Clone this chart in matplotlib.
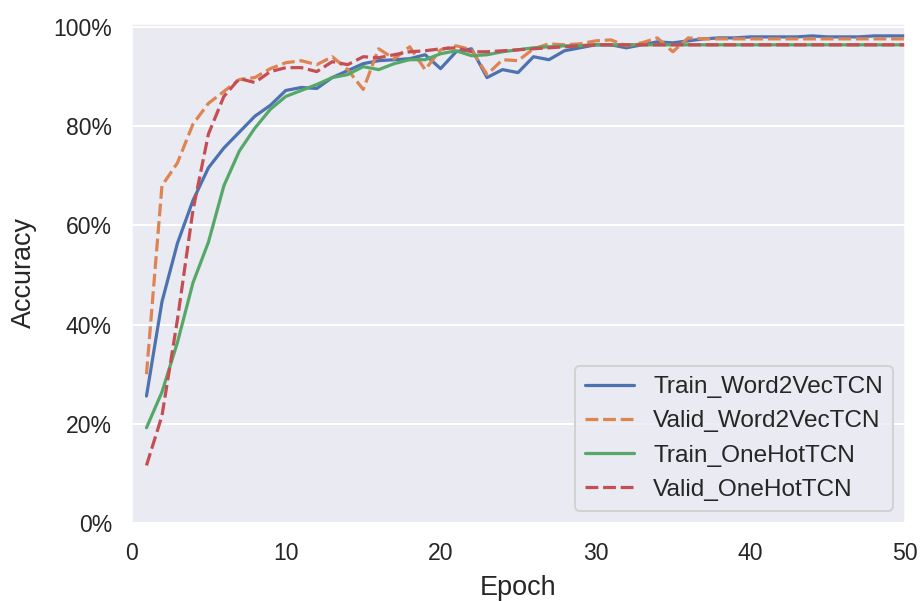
import matplotlib
matplotlib.use("Agg")
import matplotlib.pyplot as plt
import seaborn as sns
from matplotlib.ticker import PercentFormatter

sns.set_theme(style="darkgrid")
plt.rcParams['font.family'] = ['Liberation Sans', 'DejaVu Sans']

epochs = list(range(1, 51))

train_word2vec = [25.6, 44.6, 56.4, 65.0, 71.6, 75.6, 78.8, 82.0, 84.2, 87.2,
                  87.8, 87.6, 89.8, 91.2, 92.6, 93.2, 93.4, 93.6, 94.4, 91.6,
                  95.0, 95.6, 89.8, 91.4, 90.8, 94.0, 93.4, 95.2, 95.8, 96.4,
                  96.4, 95.8, 96.4, 97.0, 96.8, 97.2, 97.6, 97.8, 97.8, 98.0,
                  98.0, 98.0, 98.0, 98.2, 98.0, 98.0, 98.0, 98.2, 98.2, 98.2]
valid_word2vec = [30.0, 68.0, 72.6, 80.4, 84.6, 87.0, 89.4, 89.8, 91.6, 92.8,
                  93.2, 92.4, 94.0, 91.4, 87.4, 95.6, 93.6, 96.0, 91.4, 95.4,
                  96.2, 95.4, 90.4, 93.4, 93.2, 95.6, 96.6, 96.4, 96.6, 97.2,
                  97.4, 96.2, 96.8, 97.8, 95.0, 97.8, 97.6, 97.6, 97.6, 97.6,
                  97.6, 97.6, 97.6, 97.6, 97.6, 97.6, 97.6, 97.6, 97.6, 97.6]
train_onehot = [19.2, 26.4, 36.4, 48.4, 56.6, 68.0, 75.0, 79.6, 83.4, 86.0,
                87.2, 88.4, 89.8, 90.4, 92.0, 91.4, 92.6, 93.4, 93.4, 94.6,
                95.2, 94.2, 94.4, 95.0, 95.4, 95.8, 96.0, 96.2, 96.2, 96.4,
                96.4, 96.4, 96.4, 96.4, 96.4, 96.4, 96.4, 96.4, 96.4, 96.4,
                96.4, 96.4, 96.4, 96.4, 96.4, 96.4, 96.4, 96.4, 96.4, 96.4]
valid_onehot = [11.6, 21.6, 41.0, 63.0, 78.4, 86.0, 89.6, 88.8, 91.0, 91.8,
                91.8, 91.0, 93.0, 92.4, 94.0, 93.8, 94.4, 95.0, 95.2, 95.6,
                95.8, 95.0, 95.0, 95.2, 95.4, 95.6, 95.8, 96.0, 96.2, 96.4,
                96.4, 96.4, 96.4, 96.4, 96.4, 96.4, 96.4, 96.4, 96.4, 96.4,
                96.4, 96.4, 96.4, 96.4, 96.4, 96.4, 96.4, 96.4, 96.4, 96.4]

series = [
    ("Train_Word2VecTCN", train_word2vec, "#4C72B0", False),
    ("Valid_Word2VecTCN", valid_word2vec, "#DD8452", True),
    ("Train_OneHotTCN", train_onehot, "#55A868", False),
    ("Valid_OneHotTCN", valid_onehot, "#C44E52", True),
]

fig = plt.figure(figsize=(921 / 144, 601 / 144), dpi=144)
ax = fig.add_axes([131 / 921, 1 - 523 / 601, (905 - 131) / 921, (523 - 23) / 601])

for name, vals, color, dashed in series:
    line, = ax.plot(epochs, [v / 100 for v in vals], color=color,
                    linewidth=1.6, label=name)
    if dashed:
        line.set_dashes((4, 1.5))

ax.set_xlim(0, 50)
ax.set_ylim(0, 1.008)
ax.set_xticks([0, 10, 20, 30, 40, 50])
ax.set_yticks([0, 0.2, 0.4, 0.6, 0.8, 1.0])
ax.yaxis.set_major_formatter(PercentFormatter(1.0, decimals=0))
ax.grid(False, axis="x")
ax.tick_params(labelsize=11.5, colors="#262626")
ax.set_xlabel("Epoch", fontsize=13.5, color="#262626", labelpad=5)
ax.set_ylabel("Accuracy", fontsize=13.5, color="#262626", labelpad=8)

leg = ax.legend(loc="lower right", fontsize=12.2, frameon=True,
                facecolor="#EAEAF2", edgecolor="0.8", borderaxespad=0.5)

fig.savefig("out.png", dpi=144)
